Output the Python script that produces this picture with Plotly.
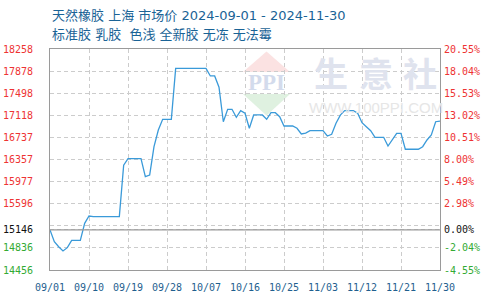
import plotly.graph_objects as go
import pandas as pd

# ---- data ----
start_date = "2024-09-01"
prices = [
    15146, 14943, 14857, 14783, 14840, 14967, 14967, 14967, 15259, 15385,
    15375, 15375, 15375, 15375, 15375, 15375, 15375, 16260, 16371, 16371,
    16371, 16371, 16061, 16090, 16577, 16864, 17048, 17048, 17048, 17925,
    17925, 17925, 17925, 17925, 17925, 17925, 17925, 17794, 17794, 17600,
    17007, 17221, 17221, 17083, 17197, 17152, 16894, 17123, 17123, 17123,
    17049, 17162, 17162, 17093, 16933, 16933, 16933, 16894, 16796, 16810,
    16853, 16853, 16853, 16853, 16761, 16790, 16980, 17120, 17197, 17197,
    17197, 17152, 16990, 16921, 16853, 16739, 16739, 16739, 16589, 16693,
    16808, 16808, 16533, 16533, 16533, 16533, 16577, 16693, 16779, 17007,
    17019,
]
dates = pd.date_range(start_date, periods=len(prices), freq="D")

base_price = 15146
y_min, y_max = 14456, 18258
left_labels = ["14456", "14836", "", "15596", "15977", "16357", "16737",
               "17118", "17498", "17878", "18258"]
right_labels = ["-4.55%", "-2.04%", "", "2.98%", "5.49%", "8.00%", "10.51%",
                "13.02%", "15.53%", "18.04%", "20.55%"]
base_left_label = "15146"
base_right_label = "0.00%"

x_tick_dates = pd.date_range(start_date, periods=11, freq="9D")
x_tick_labels = [d.strftime("%m/%d") for d in x_tick_dates]

title1 = "天然橡胶 上海 市场价 2024-09-01 - 2024-11-30"
title2 = "标准胶 乳胶  色浅 全新胶 无冻 无法霉"

# ---- styling helpers ----
RED, GREEN, BLACK = "#ee3333", "#33aa33", "#111111"
step = (y_max - y_min) / 10
tick_vals = [y_min + k * step for k in range(11)] + [base_price]


def colored(lbls, base_lbl):
    out = []
    for i, t in enumerate(lbls):
        if t == "":
            out.append("")
        else:
            c = GREEN if i < 2 else RED
            out.append(f'<span style="color:{c}">{t}</span>')
    out.append(f'<span style="color:{BLACK}">{base_lbl}</span>')
    return out


left_text = colored(left_labels, base_left_label)
right_text = colored(right_labels, base_right_label)

fig = go.Figure()
fig.add_trace(go.Scatter(x=dates, y=prices, mode="lines",
                         line=dict(color="#3a9ad9", width=1.3),
                         hoverinfo="skip", showlegend=False))
fig.add_trace(go.Scatter(x=dates, y=prices, mode="lines", yaxis="y2",
                         line=dict(color="rgba(0,0,0,0)", width=0),
                         hoverinfo="skip", showlegend=False))

tick_font = dict(family="DejaVu Sans Mono", size=10)
grid_color = "#cccccc"
axis_color = "#9a9a9a"

fig.update_layout(
    width=490, height=300,
    margin=dict(l=50, r=50, t=49, b=30),
    paper_bgcolor="white", plot_bgcolor="white",
    xaxis=dict(
        type="date", automargin=False,
        range=[dates[0], dates[-1]],
        tickvals=list(x_tick_dates), ticktext=x_tick_labels,
        tickfont=dict(family="DejaVu Sans Mono", size=10, color="#1f5f8f"),
        showgrid=True, gridcolor=grid_color, griddash="4px,3px", gridwidth=1,
        showline=True, linecolor=axis_color, linewidth=1, mirror=True,
        ticks="", ticklabelstandoff=8, zeroline=False,
    ),
    yaxis=dict(
        range=[y_min, y_max], automargin=False,
        tickvals=tick_vals, ticktext=left_text,
        tickfont=tick_font,
        showgrid=True, gridcolor=grid_color, griddash="4px,3px", gridwidth=1,
        showline=True, linecolor=axis_color, linewidth=1, mirror=True,
        ticks="", ticklabelstandoff=14, zeroline=False,
    ),
    yaxis2=dict(
        range=[y_min, y_max], overlaying="y", side="right", automargin=False,
        tickvals=tick_vals, ticktext=right_text,
        tickfont=tick_font, showgrid=False, zeroline=False,
        showline=False, ticks="", ticklabelstandoff=3,
    ),
)

# base line
fig.add_shape(type="line", xref="paper", x0=0, x1=1, yref="y",
              y0=base_price, y1=base_price,
              line=dict(color=axis_color, width=1.2), layer="above")


# ---- watermark (paper coords) ----
def px(xp):
    return (xp - 50) / 390


def py(yp):
    return (270 - yp) / 221


cx, top, bot, half = 266.5, 51.5, 115.5, 23.5
fig.add_shape(type="path", xref="paper", yref="paper", layer="below",
              path=f"M {px(cx)},{py(top)} L {px(cx+half)},{py(72)} L {px(cx-half)},{py(72)} Z",
              fillcolor="#fbe2e2", line=dict(width=0))
fig.add_shape(type="path", xref="paper", yref="paper", layer="below",
              path=f"M {px(cx-half)},{py(94)} L {px(cx+half)},{py(94)} L {px(cx)},{py(bot)} Z",
              fillcolor="#dff1e0", line=dict(width=0))
fig.add_annotation(xref="paper", yref="paper", x=px(cx), y=py(82.5),
                   xanchor="center", yanchor="middle",
                   text="<b>PPI</b>", showarrow=False,
                   font=dict(family="Liberation Serif", size=23, color="#d3dbec"))
for ch, xc in zip("生意社", [331, 376, 420]):
    fig.add_annotation(xref="paper", yref="paper", x=px(xc), y=py(73),
                       xanchor="center", yanchor="middle",
                       text=f"<b>{ch}</b>", showarrow=False,
                       font=dict(family="Noto Sans CJK SC", size=34, color="#dfe3ee"))
fig.add_annotation(xref="paper", yref="paper", x=px(376), y=py(107),
                   xanchor="center", yanchor="middle",
                   text="WWW.100PPI.COM", showarrow=False,
                   font=dict(family="Liberation Sans", size=15, color="#e6e6e6"))

# ---- titles ----
title_font = dict(family="DejaVu Sans, Noto Sans CJK SC", size=13, color="#1a6396")
fig.add_annotation(xref="paper", yref="paper", x=0, y=py(15), xanchor="left",
                   yanchor="middle", text=title1, showarrow=False, font=title_font)
fig.add_annotation(xref="paper", yref="paper", x=0, y=py(34), xanchor="left",
                   yanchor="middle", text=title2, showarrow=False, font=title_font)

fig.write_html("out.html")
